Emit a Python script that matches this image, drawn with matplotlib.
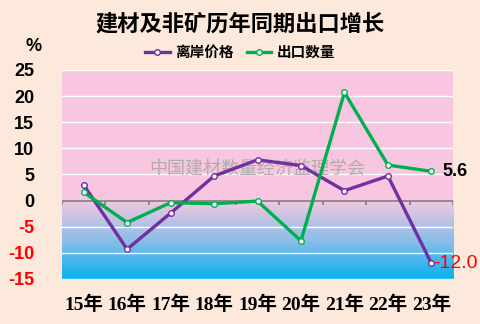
import numpy as np
import matplotlib
matplotlib.use('Agg')
from matplotlib import pyplot as plt
from matplotlib.colors import LinearSegmentedColormap

plt.rcParams['font.family'] = ['Liberation Sans', 'Noto Sans CJK SC', 'DejaVu Sans']

years = ['15年', '16年', '17年', '18年', '19年', '20年', '21年', '22年', '23年']
price = [3.0, -9.3, -2.4, 4.7, 7.8, 6.7, 1.9, 4.7, -12.0]
volume = [1.6, -4.2, -0.4, -0.6, -0.1, -7.7, 20.7, 6.8, 5.6]
yticks = [25, 20, 15, 10, 5, 0, -5, -10, -15]

PURPLE = '#7030A0'
GREEN = '#00B050'
BG = '#FCE9DC'

fig = plt.figure(figsize=(4.8, 3.24), dpi=100, facecolor=BG)
ax = fig.add_axes([0.129, 0.139, 0.815, 0.645])
ax.set_facecolor('#F8C6E0')

n = len(years)
x = np.arange(n)
ax.set_xlim(-0.5, n - 0.5)
ax.set_ylim(-15, 25)

# gradient below zero: blue at bottom -> pink at zero
cmap = LinearSegmentedColormap.from_list('g', ['#08B0F0', '#8EBEE8', '#F4C8E0'])
grad = np.linspace(0, 1, 256).reshape(-1, 1)
ax.imshow(grad, aspect='auto', cmap=cmap, extent=(-0.5, n - 0.5, -15, 0),
          origin='lower', zorder=0)

for yv in yticks:
    if yv != 0:
        ax.axhline(yv, color='white', lw=1.0, zorder=1)
ax.axhline(0, color='#808080', lw=1.2, zorder=2)
ax.vlines(np.arange(-0.5, n), -0.9, 0, color='#808080', lw=1.2, zorder=2)

ax.text(0.5, 0.525, '中国建材数量经济监理学会', transform=ax.transAxes, ha='center', va='center',
        fontsize=13, color='#A8A8A8', alpha=0.9, family=['Noto Sans CJK SC'], zorder=2)

ax.plot(x, price, color=PURPLE, lw=2.4, marker='o', ms=4, mfc='white', mec=PURPLE,
        mew=1.0, label='离岸价格', zorder=4)
ax.plot(x, volume, color=GREEN, lw=2.4, marker='o', ms=4, mfc='white', mec=GREEN,
        mew=1.0, label='出口数量', zorder=4)

ax.text(x[-1] + 0.25, volume[-1], '%.1f' % volume[-1], fontsize=13, fontweight='bold',
        color='black', va='center', ha='left', zorder=5)
ax.text(x[-1] + 0.03, price[-1], '%.1f' % price[-1], fontsize=14, color='red',
        va='center', ha='left', zorder=5, clip_on=False)

for s in ax.spines.values():
    s.set_visible(False)

ax.set_yticks(yticks)
ax.set_yticklabels([str(v) for v in yticks], fontsize=13, fontweight='bold')
for lbl, v in zip(ax.get_yticklabels(), yticks):
    lbl.set_color('red' if v < 0 else 'black')
ax.tick_params(axis='y', length=0, pad=20)
ax.set_xticks(x)
ax.set_xticklabels(years, fontsize=14, fontweight='bold',
                   family=['Liberation Serif', 'Noto Sans CJK SC'])
ax.tick_params(axis='x', length=0, pad=12)

fig.text(0.07, 0.855, '%', fontsize=13, fontweight='bold', ha='center', va='center')
fig.text(0.5, 0.925, '建材及非矿历年同期出口增长', fontsize=16, fontweight='bold',
         ha='center', va='center', family=['Noto Sans CJK SC'])

leg = fig.legend(loc='center', bbox_to_anchor=(0.5, 0.84), ncol=2, frameon=False,
                 prop={'family': 'Noto Sans CJK SC', 'weight': 'bold', 'size': 10.5},
                 handlelength=1.7, columnspacing=0.9, handletextpad=0.35)

plt.savefig('out.png', dpi=100, facecolor=BG)
